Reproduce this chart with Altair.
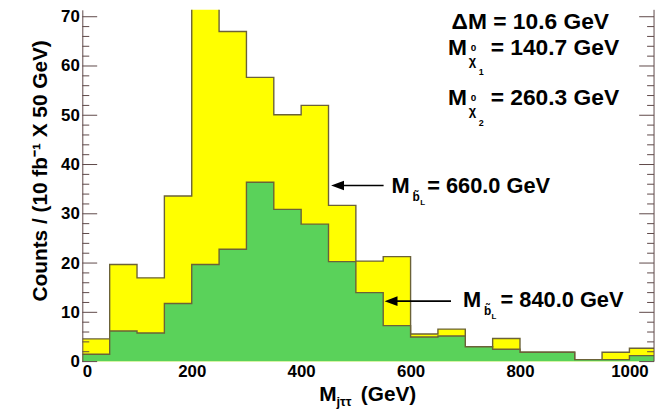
import altair as alt
import pandas as pd

# ---------------- data ----------------
bin_edges = list(range(0, 1051, 50))          # 21 bins of 50 GeV, 0 .. 1050
counts_660 = [4.6, 19.7, 17.0, 33.6, 78.0, 67.0, 57.7, 50.1, 52.0, 31.7, 20.4,
              21.3, 5.6, 6.6, 3.0, 4.7, 1.9, 1.9, 0.4, 1.9, 2.7]
counts_840 = [1.5, 6.2, 5.8, 11.8, 19.7, 22.8, 36.4, 30.9, 27.9, 20.3, 14.0,
              7.3, 5.0, 5.2, 3.0, 2.5, 1.9, 1.9, 0.4, 0.4, 1.2]
x_labels = [0, 200, 400, 600, 800, 1000]
y_labels = [0, 10, 20, 30, 40, 50, 60, 70]
y_minor = list(range(0, 71, 2))

FONT = "Liberation Sans"
AX = "#5e4848"
OUT = "#6b6238"
W, H = 577, 355

xs = alt.Scale(domain=[0, 1045], nice=False, zero=False)
ys = alt.Scale(domain=[0, 71.4], nice=False)

x_axis = alt.Axis(values=x_labels, format="d", ticks=False, domain=False,
                  grid=False, labelFont=FONT, labelFontSize=17,
                  labelFontWeight="bold", labelColor="black", labelPadding=2,
                  title=None)
y_axis = alt.Axis(values=y_labels, format="d", ticks=False, domain=True,
                  domainColor=AX, domainWidth=1, grid=False, labelFont=FONT,
                  labelFontSize=17, labelFontWeight="bold", labelColor="black",
                  labelPadding=3, title="Counts / (10 fb⁻¹ X 50 GeV)",
                  titleFont=FONT, titleFontSize=21, titleFontWeight="bold",
                  titleColor="black", titleAngle=270, titleX=-36, titleY=162,
                  titleBaseline="alphabetic", titleAlign="center", zindex=1)


def X(field):
    return alt.X(field, scale=xs, axis=x_axis)


def Y(field, **kw):
    return alt.Y(field, scale=ys, axis=y_axis, **kw)


def hist_df(vals):
    return pd.DataFrame({"m": bin_edges, "c": vals + [vals[-1]]})


yellow_area = alt.Chart(hist_df(counts_660)).mark_area(
    interpolate="step-after", color="#ffff00", clip=True
).encode(x=X("m:Q"), y=Y("c:Q", stack=None))
yellow_line = alt.Chart(hist_df(counts_660)).mark_line(
    interpolate="step-after", color=OUT, strokeWidth=1.4, clip=True
).encode(x=X("m:Q"), y=Y("c:Q"))

green_area = alt.Chart(hist_df(counts_840)).mark_area(
    interpolate="step-after", color="#5ad25a", clip=True
).encode(x=X("m:Q"), y=Y("c:Q", stack=None))
green_line = alt.Chart(hist_df(counts_840)).mark_line(
    interpolate="step-after", color=OUT, strokeWidth=1.4, clip=True
).encode(x=X("m:Q"), y=Y("c:Q"))

# inward ticks on left and right y axes
tick_df = pd.DataFrame({"v": y_minor, "major": [v % 10 == 0 for v in y_minor]})
ticks = []
for is_major, length in [(True, 15), (False, 7)]:
    base = alt.Chart(tick_df).transform_filter(
        "datum.major" if is_major else "!datum.major"
    ).mark_rule(color=AX, strokeWidth=1)
    ticks.append(base.encode(y=Y("v:Q"), x=alt.value(0), x2=alt.value(length)))
    ticks.append(base.encode(y=Y("v:Q"), x=alt.value(W - length), x2=alt.value(W)))

right_axis = alt.Chart(pd.DataFrame({"a": [0]})).mark_rule(
    color=AX, strokeWidth=1
).encode(x=alt.value(W), y=alt.value(0), y2=alt.value(H))


def txt(s, gx, gy, size, align="left"):
    return alt.Chart(pd.DataFrame({"t": [s], "gx": [gx], "gy": [gy]})).mark_text(
        align=align, baseline="alphabetic", fontSize=size, fontWeight="bold",
        font=FONT, color="black"
    ).encode(x=X("gx:Q"), y=Y("gy:Q"), text="t:N")


def arrow(x_head, x_end, gy):
    line = alt.Chart(pd.DataFrame({"x1": [x_head], "x2": [x_end], "gy": [gy]})).mark_rule(
        color="black", strokeWidth=1.6
    ).encode(x=X("x1:Q"), x2="x2:Q", y=Y("gy:Q"))
    head = alt.Chart(pd.DataFrame({"gx": [x_head], "gy": [gy]})).mark_point(
        shape="M-1,0L1,-0.75L1,0.75Z", size=169, filled=True, opacity=1,
        color="black"
    ).encode(x=X("gx:Q"), y=Y("gy:Q"))
    return [line, head]


notes = [
    txt("ΔM = 10.6 GeV", 818.8, 67.45, 23, align="center"),
    txt("M", 668.5, 62.2, 23), txt("0", 710.0, 63.0, 10),
    txt("χ", 706.5, 60.2, 13), txt("1", 724.5, 58.1, 9),
    txt("= 140.7 GeV", 746.4, 62.2, 23),
    txt("M", 668.5, 52.05, 23), txt("0", 710.0, 52.85, 10),
    txt("χ", 706.5, 50.05, 13), txt("2", 724.5, 47.9, 9),
    txt("= 260.3 GeV", 746.4, 52.05, 23),
    txt("M", 565.2, 34.15, 22), txt("b̃", 603.5, 32.5, 12),
    txt("L", 617.5, 31.7, 8), txt("= 660.0 GeV", 630.4, 34.15, 22),
    txt("M", 695.7, 11.0, 22), txt("b̃", 734.0, 9.4, 12),
    txt("L", 748.0, 8.6, 8), txt("= 840.0 GeV", 764.5, 11.0, 22),
    # x-axis title
    txt("M", 433.0, -8.1, 21), txt("jττ", 464.5, -9.1, 13),
    txt("(GeV)", 509.0, -8.1, 21),
]
arrows = arrow(466.5, 550.7, 35.75) + arrow(564.3, 673.9, 12.27)

chart = alt.layer(
    yellow_area, yellow_line, green_area, green_line,
    *ticks, right_axis, *arrows, *notes
).properties(
    width=W, height=H,
    autosize=alt.AutoSizeParams(type="none"),
    padding={"left": 75, "top": 0, "right": 4, "bottom": 46},
    background="white",
).configure_view(stroke=None)

chart.save("out.html", embed_options={"renderer": "svg", "actions": False})
